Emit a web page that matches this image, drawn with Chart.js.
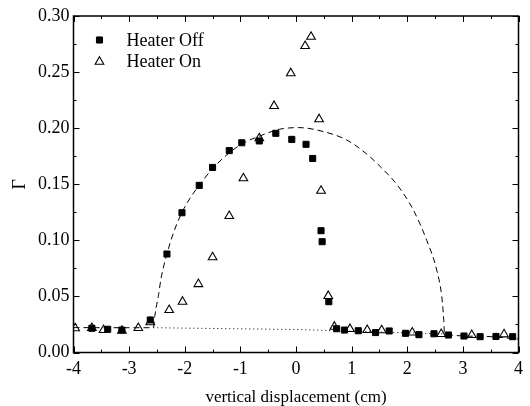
<!DOCTYPE html>
<html><head><meta charset="utf-8">
<script src="https://cdn.jsdelivr.net/npm/chart.js@4.4.1/dist/chart.umd.min.js"></script>
<style>html,body{margin:0;padding:0;background:#fff;}</style>
</head><body>
<canvas id="c" width="530" height="406" style="display:block;width:530px;height:406px"></canvas>
<script>
// ---- data ----
const xTicks = [-4, -3, -2, -1, 0, 1, 2, 3, 4];
const xMinor = [-3.5, -2.5, -1.5, -0.5, 0.5, 1.5, 2.5, 3.5];
const yTicks = [0.00, 0.05, 0.10, 0.15, 0.20, 0.25, 0.30];
const yMinor = [0.025, 0.075, 0.125, 0.175, 0.225, 0.275];

const offX = [-3.67, -3.385, -3.13, -2.62, -2.32, -2.05, -1.74, -1.50, -1.20, -0.975, -0.66, -0.363, -0.076, 0.18, 0.30, 0.45, 0.47, 0.59, 0.73, 0.87, 1.12, 1.43, 1.675, 1.97, 2.21, 2.48, 2.74, 3.02, 3.31, 3.595, 3.895];
const offY = [0.0216, 0.0207, 0.0200, 0.0290, 0.0878, 0.1246, 0.1490, 0.1650, 0.1800, 0.1870, 0.1886, 0.1954, 0.1900, 0.1856, 0.1730, 0.1086, 0.0988, 0.0453, 0.0212, 0.0200, 0.0194, 0.0178, 0.0192, 0.0171, 0.0159, 0.0167, 0.0156, 0.0147, 0.0141, 0.0143, 0.0141];

const onX = [-3.97, -3.67, -3.46, -3.13, -2.835, -2.62, -2.28, -2.04, -1.755, -1.50, -1.20, -0.946, -0.66, -0.394, -0.094, 0.164, 0.27, 0.415, 0.45, 0.58, 0.69, 0.97, 1.28, 1.54, 2.09, 2.61, 3.16, 3.74];
const onY = [0.0216, 0.0218, 0.0200, 0.0194, 0.0218, 0.0270, 0.0379, 0.0453, 0.0610, 0.0849, 0.1217, 0.1553, 0.1910, 0.2198, 0.2490, 0.2732, 0.2815, 0.2080, 0.1442, 0.0504, 0.0230, 0.0210, 0.0200, 0.0198, 0.0178, 0.0165, 0.0156, 0.0162];

const fitX = [-4, -3.3, -2.565, -2.54, -2.515, -2.475, -2.43, -2.32, -2.2, -2.05, -1.9, -1.74, -1.5, -1.2, -0.97, -0.6, -0.3, 0.05, 0.49, 0.91, 1.27, 1.57, 1.81, 2.11, 2.35, 2.53, 2.62, 2.655, 2.67, 3.3, 4];
const fitY = [0.0222, 0.0221, 0.0221, 0.032, 0.040, 0.050, 0.065, 0.088, 0.107, 0.125, 0.138, 0.149, 0.164, 0.178, 0.186, 0.194, 0.199, 0.2005, 0.197, 0.1895, 0.177, 0.163, 0.150, 0.127, 0.100, 0.0735, 0.050, 0.030, 0.0166, 0.0145, 0.012];

const baseX = [-2.565, 0, 2.67];
const baseY = [0.0221, 0.0205, 0.0166];

const seriesLabels = ['Heater Off', 'Heater On'];
const xTitle = 'vertical displacement (cm)';
const yTitle = 'Γ';

const pts = (xs, ys) => xs.map((x, i) => ({x: x, y: ys[i]}));
const FONT = 'Liberation Serif';

const frameTicks = {
  id: 'frameTicks',
  afterDatasetsDraw(chart) {
    const {ctx, chartArea: a, scales: {x, y}} = chart;
    ctx.save();
    ctx.strokeStyle = '#000';
    ctx.lineWidth = 1.5;
    ctx.strokeRect(a.left, a.top, a.right - a.left, a.bottom - a.top);
    ctx.lineWidth = 1;
    ctx.beginPath();
    const tx = (v, len) => { const p = Math.round(x.getPixelForValue(v)) + 0.5;
      ctx.moveTo(p, a.bottom); ctx.lineTo(p, a.bottom - len);
      ctx.moveTo(p, a.top); ctx.lineTo(p, a.top + len); };
    const ty = (v, len) => { const p = Math.round(y.getPixelForValue(v)) + 0.5;
      ctx.moveTo(a.left, p); ctx.lineTo(a.left + len, p);
      ctx.moveTo(a.right, p); ctx.lineTo(a.right - len, p); };
    xTicks.forEach(v => tx(v, 6)); xMinor.forEach(v => tx(v, 3));
    yTicks.forEach(v => ty(v, 6)); yMinor.forEach(v => ty(v, 3));
    ctx.stroke();
    ctx.restore();
  }
};

const innerLegend = {
  id: 'innerLegend',
  afterDraw(chart) {
    const {ctx, chartArea: a} = chart;
    ctx.save();
    const mx = a.left + 26, tx = a.left + 53, y0 = a.top + 24, dy = 21.7;
    [0, 1].forEach((i) => {
      const ds = chart.data.datasets[i];
      const y = y0 + i * dy;
      ctx.fillStyle = ds.backgroundColor;
      ctx.strokeStyle = ds.borderColor;
      ctx.lineWidth = ds.borderWidth;
      Chart.helpers.drawPoint(ctx, {pointStyle: ds.pointStyle, radius: ds.pointRadius, rotation: 0, borderWidth: ds.borderWidth}, mx, y);
      ctx.fillStyle = '#000';
      ctx.font = '18px "' + FONT + '"';
      ctx.textBaseline = 'middle';
      ctx.textAlign = 'left';
      ctx.fillText(ds.label, tx, y + 1);
    });
    ctx.restore();
  }
};

new Chart(document.getElementById('c'), {
  type: 'scatter',
  data: {
    datasets: [
      {label: seriesLabels[0], data: pts(offX, offY), pointStyle: 'rect', pointRadius: 4.3,
       backgroundColor: '#000', borderColor: '#000', borderWidth: 1, showLine: false, order: 0},
      {label: seriesLabels[1], data: pts(onX, onY), pointStyle: 'triangle', pointRadius: 5,
       backgroundColor: 'rgba(255,255,255,0)', borderColor: '#000', borderWidth: 1.1, showLine: false, order: 1},
      {label: 'fit', data: pts(fitX, fitY), showLine: true, pointRadius: 0, borderColor: '#000',
       borderWidth: 1, borderDash: [6, 4], cubicInterpolationMode: 'monotone', fill: false, order: 2},
      {label: 'baseline', data: pts(baseX, baseY), showLine: true, pointRadius: 0, borderColor: '#000',
       borderWidth: 1, borderDash: [1, 3], tension: 0, fill: false, order: 2}
    ]
  },
  options: {
    responsive: false,
    devicePixelRatio: 1,
    animation: false,
    events: [],
    layout: {padding: {top: 16, right: 11.5, left: 0, bottom: 0}},
    plugins: {legend: {display: false}, tooltip: {enabled: false}},
    scales: {
      x: {
        type: 'linear', min: -4, max: 4,
        grid: {display: false, drawTicks: false},
        border: {display: false},
        afterBuildTicks: s => { s.ticks = xTicks.map(v => ({value: v})); },
        afterFit: s => { s.height = 53.5; },
        ticks: {color: '#000', padding: 6, font: {family: FONT, size: 18}, maxRotation: 0,
                callback: v => String(v)},
        title: {display: true, text: xTitle, color: '#000', font: {family: FONT, size: 17, lineHeight: 1},
                padding: {top: 0, bottom: 0}}
      },
      y: {
        type: 'linear', min: 0, max: 0.3,
        grid: {display: false, drawTicks: false},
        border: {display: false},
        afterBuildTicks: s => { s.ticks = yTicks.map(v => ({value: v})); },
        afterFit: s => { s.width = 73.5; },
        ticks: {color: '#000', padding: 4, font: {family: FONT, size: 18},
                callback: v => Number(v).toFixed(2)},
        title: {display: true, text: yTitle, color: '#000', font: {family: FONT, size: 18, lineHeight: 1},
                padding: {top: 11, bottom: 0}}
      }
    }
  },
  plugins: [frameTicks, innerLegend]
});
</script>
</body></html>
